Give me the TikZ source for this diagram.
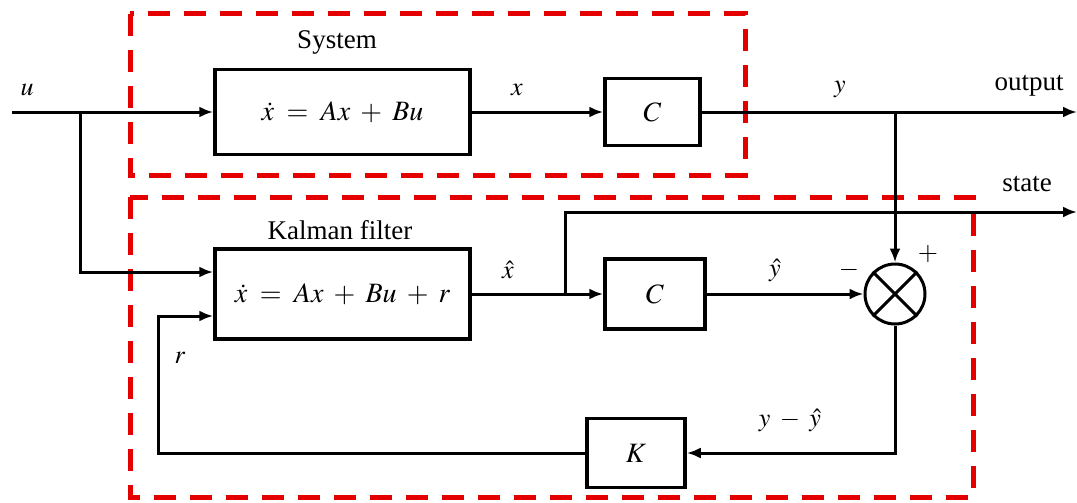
\documentclass[tikz,border=0pt]{standalone}
\usepackage{mathptmx}
\usepackage{fontspec}
\setmainfont{Liberation Serif}
\usetikzlibrary{arrows.meta}
\begin{document}
\begin{tikzpicture}[x=1pt,y=-1pt,line width=3pt,
  blk/.style={draw,line width=3.5pt,inner sep=0pt,font=\fontsize{28}{32}\selectfont},
  arr/.style={-{Latex[length=14pt,width=11pt]},line width=3pt},
  grp/.style={draw=red!90!black,line width=5pt,dash pattern=on 22pt off 14pt},
  lbl/.style={font=\fontsize{26}{30}\selectfont,inner sep=0pt},
  txt/.style={font=\fontsize{27}{31}\selectfont,inner sep=0pt}]
\useasboundingbox (0,0) rectangle (1077,503);
% red groups
\draw[grp] (130,14) rectangle (745,175);
\draw[grp] (130,197) rectangle (973,497);
% blocks
\node[blk,minimum width=255pt,minimum height=85pt] (b1) at (342.5,112) {$\dot{x}\;=\;Ax\;+\;Bu$};
\node[blk,minimum width=95pt,minimum height=67pt] (C1) at (652.5,112) {$C$};
\node[blk,minimum width=255pt,minimum height=90pt] (b2) at (342.5,294) {$\dot{x}\;=\;Ax\;+\;Bu\;+\;r$};
\node[blk,minimum width=100pt,minimum height=70pt] (C2) at (655,294) {$C$};
\node[blk,minimum width=98pt,minimum height=69pt] (K) at (636,453) {$K$};
\node[draw,circle,line width=3pt,minimum size=60pt,inner sep=0pt] (sum) at (895,294) {};
\draw[line width=3pt] (sum.45) -- (sum.225) (sum.135) -- (sum.315);
% coordinates
\coordinate (uin) at (12,112);
\coordinate (br) at (80,112);
\coordinate (out) at (1077,112);
\coordinate (yb) at (895,112);
\coordinate (xh) at (565,294);
\coordinate (stateout) at (1077,212);
\coordinate (rc) at (158,453);
% connectors
\draw[arr] (uin) -- (b1.west);
\draw[arr] (br) |- (b2.west |- 0,272);
\draw[arr] (b1.east) -- (C1.west);
\draw[arr] (C1.east) -- (out);
\draw[arr] (yb) -- (sum.north);
\draw (b2.east) -- (xh);
\draw[arr] (xh) -- (C2.west);
\draw[arr] (xh) |- (stateout);
\draw[arr] (C2.east) -- (sum.west);
\draw[arr] (sum.south) |- (K.east);
\draw[arr] (K.west) -- (rc) |- (b2.west |- 0,316);
% labels
\node[lbl] (lu) at (27,90) {$u$};
\node[lbl] (lx) at (517,90) {$x$};
\node[lbl] (ly) at (840,90) {$y$};
\node[txt] (lout) at (1029,86) {output};
\node[txt] (lstate) at (1027,184) {state};
\node[txt] (lsys) at (337,42) {System};
\node[txt] (lkf) at (340,230) {Kalman filter};
\node[lbl] (lxh) at (508,270) {$\hat{x}$};
\node[lbl] (lyh) at (775,270) {$\hat{y}$};
\node[lbl] (lminus) at (849,270) {$-$};
\node[lbl] (lplus) at (928,254) {$+$};
\node[lbl] (lr) at (180,358) {$r$};
\node[lbl] (lerr) at (790,420) {$y\;-\;\hat{y}$};
\end{tikzpicture}
\end{document}
